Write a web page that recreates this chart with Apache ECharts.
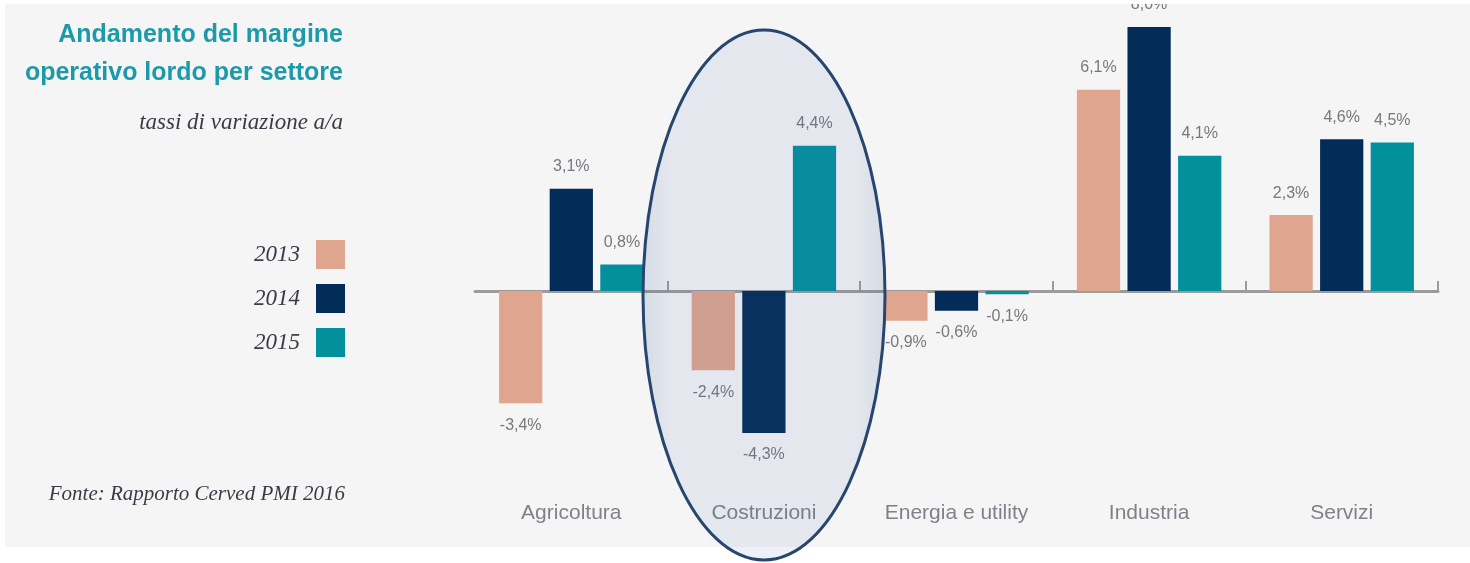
<!DOCTYPE html>
<html>
<head>
<meta charset="utf-8">
<script src="https://cdn.jsdelivr.net/npm/echarts@6/dist/echarts.min.js"></script>
<style>
html,body{margin:0;padding:0;background:#ffffff;}
#chart{width:1470px;height:563px;}
</style>
</head>
<body>
<div id="chart"></div>
<script>
const categories = ['Agricoltura', 'Costruzioni', 'Energia e utility', 'Industria', 'Servizi'];
const seriesNames = ['2013', '2014', '2015'];
const values2013 = [-3.4, -2.4, -0.9, 6.1, 2.3];
const values2014 = [3.1, -4.3, -0.6, 8.0, 4.6];
const values2015 = [0.8, 4.4, -0.1, 4.1, 4.5];
const colors = ['#dfa58f', '#032c58', '#02909d'];
const titleText = 'Andamento del margine\noperativo lordo per settore';
const subtitleText = 'tassi di variazione a/a';
const sourceText = 'Fonte: Rapporto Cerved PMI 2016';

const chart = echarts.init(document.getElementById('chart'), null, {renderer: 'canvas'});

const fmt = v => v.toFixed(1).replace('.', ',') + '%';
function makeSeries(name, data, color) {
  return {
    name: name,
    type: 'bar',
    xAxisIndex: 0,
    barGap: '17%',
    barCategoryGap: '25%',
    itemStyle: {color: color},
    data: data.map(v => ({
      value: v,
      label: {position: v >= 0 ? 'top' : 'bottom'}
    })),
    label: {
      show: true,
      distance: 14,
      formatter: p => fmt(p.value),
      fontFamily: 'Liberation Sans, Arial, sans-serif',
      fontSize: 16,
      color: '#77787e'
    }
  };
}

const option = {
  animation: false,
  backgroundColor: '#ffffff',
  title: [
    {
      text: titleText,
      left: 343, top: 16, textAlign: 'right', padding: 0,
      textStyle: {
        fontFamily: "'Liberation Sans', Arial, sans-serif",
        fontWeight: 'bold', fontSize: 25, lineHeight: 38, color: '#1d9aa9'
      }
    },
    {
      text: subtitleText,
      left: 343, top: 111, textAlign: 'right', padding: 0,
      textStyle: {
        fontFamily: "'Liberation Serif', serif", fontStyle: 'italic',
        fontWeight: 'normal', fontSize: 23, color: '#3b3b48'
      }
    },
    {
      text: sourceText,
      left: 345, top: 484, textAlign: 'right', padding: 0,
      textStyle: {
        fontFamily: "'Liberation Serif', serif", fontStyle: 'italic',
        fontWeight: 'normal', fontSize: 21, color: '#3b3b48'
      }
    }
  ],
  legend: {
    data: seriesNames,
    orient: 'vertical',
    right: 1125,
    top: 240,
    padding: 0,
    align: 'right',
    itemWidth: 29,
    itemHeight: 29,
    itemGap: 15,
    icon: 'rect',
    textStyle: {
      fontFamily: "'Liberation Serif', serif", fontStyle: 'italic',
      fontSize: 23, color: '#3b3b48', padding: [0, 11, 0, 0]
    }
  },
  grid: {left: 475, right: 32, top: 27, bottom: 107, containLabel: false},
  xAxis: [
    {
      type: 'category',
      data: categories,
      axisLine: {onZero: true, lineStyle: {color: '#9b9b9b', width: 3}},
      axisTick: {show: true, inside: true, length: 10, lineStyle: {color: '#9b9b9b', width: 2},
        interval: (i) => i !== 0},
      axisLabel: {show: false},
      splitLine: {show: false}
    },
    {
      type: 'category',
      data: categories,
      position: 'bottom',
      axisLine: {show: false, onZero: false},
      axisTick: {show: false},
      axisLabel: {
        show: true, margin: 47,
        fontFamily: 'Liberation Sans, Arial, sans-serif', fontSize: 21, color: '#7d828b'
      }
    }
  ],
  yAxis: {
    type: 'value', min: -5, max: 8, show: false,
    splitLine: {show: false}
  },
  series: [
    makeSeries(seriesNames[0], values2013, colors[0]),
    makeSeries(seriesNames[1], values2014, colors[1]),
    makeSeries(seriesNames[2], values2015, colors[2])
  ],
  graphic: [
    {
      type: 'rect', z: -10, silent: true,
      shape: {x: 5, y: 4, width: 1465, height: 543},
      style: {fill: '#f5f5f5'}
    },
    {
      type: 'ellipse', z: 100, silent: true,
      shape: {cx: 764, cy: 295, rx: 121, ry: 265},
      style: {
        fill: {
          type: 'linear', x: 0, y: 0, x2: 1, y2: 0,
          colorStops: [
            {offset: 0, color: 'rgba(60,95,160,0.18)'},
            {offset: 0.12, color: 'rgba(60,95,160,0.09)'},
            {offset: 0.88, color: 'rgba(60,95,160,0.09)'},
            {offset: 1, color: 'rgba(60,95,160,0.18)'}
          ]
        },
        stroke: '#27466f', lineWidth: 3
      }
    },
    {
      type: 'rect', z: 200, silent: true,
      shape: {x: 0, y: 0, width: 1470, height: 4},
      style: {fill: '#ffffff'}
    }
  ]
};
chart.setOption(option);
</script>
</body>
</html>
